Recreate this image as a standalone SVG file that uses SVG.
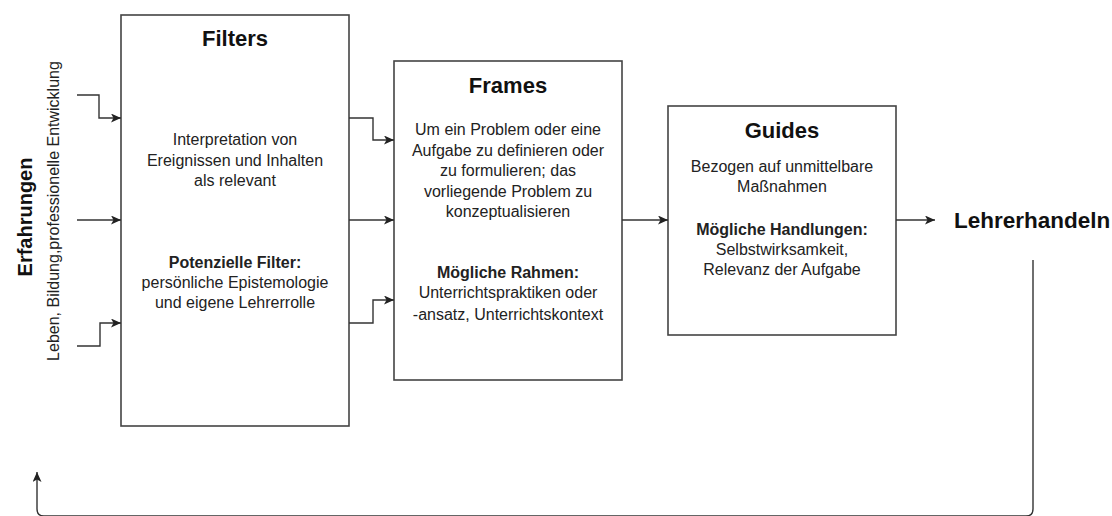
<svg xmlns="http://www.w3.org/2000/svg" width="1112" height="516" viewBox="0 0 1112 516">
<style>
.box{fill:#fff;stroke:#444;stroke-width:1.6}
.t{font-family:"Liberation Sans",Arial,sans-serif;fill:#222;text-anchor:middle}
.title{font-size:22px;font-weight:bold;fill:#111}
.body{font-size:16px}
.b{font-weight:bold}
.con{fill:none;stroke:#333;stroke-width:1.4}
</style>
<defs>
<marker id="ah" markerUnits="userSpaceOnUse" markerWidth="12" markerHeight="10" refX="10" refY="4.5" orient="auto">
<path d="M0,0 L10,4.5 L0,9 L2.5,4.5 Z" fill="#222"/>
</marker>
</defs>
<rect width="1112" height="516" fill="#fff"/>
<g id="left-label">
<text class="t title" style="font-size:20px" transform="translate(32,217) rotate(-90)">Erfahrungen</text>
<text class="t body" transform="translate(59,211) rotate(-90)">Leben, Bildung,professionelle Entwicklung</text>
</g>
<g id="filters">
<rect class="box" x="121" y="15" width="228" height="411"/>
<text class="t title" x="235" y="46">Filters</text>
<text class="t body" x="235" y="145">Interpretation von</text>
<text class="t body" x="235" y="166">Ereignissen und Inhalten</text>
<text class="t body" x="235" y="186">als relevant</text>
<text class="t body b" x="235" y="268">Potenzielle Filter:</text>
<text class="t body" x="235" y="288">persönliche Epistemologie</text>
<text class="t body" x="235" y="308">und eigene Lehrerrolle</text>
</g>
<g id="frames">
<rect class="box" x="394" y="61" width="228" height="319"/>
<text class="t title" x="508" y="93">Frames</text>
<text class="t body" x="508" y="135">Um ein Problem oder eine</text>
<text class="t body" x="508" y="155.5">Aufgabe zu definieren oder</text>
<text class="t body" x="508" y="176">zu formulieren; das</text>
<text class="t body" x="508" y="196.5">vorliegende Problem zu</text>
<text class="t body" x="508" y="217">konzeptualisieren</text>
<text class="t body b" x="508" y="278">Mögliche Rahmen:</text>
<text class="t body" x="508" y="298">Unterrichtspraktiken oder</text>
<text class="t body" x="508" y="320">-ansatz, Unterrichtskontext</text>
</g>
<g id="guides">
<rect class="box" x="668" y="106" width="228" height="229"/>
<text class="t title" x="782" y="138">Guides</text>
<text class="t body" x="782" y="172">Bezogen auf unmittelbare</text>
<text class="t body" x="782" y="192">Maßnahmen</text>
<text class="t body b" x="782" y="235">Mögliche Handlungen:</text>
<text class="t body" x="782" y="255">Selbstwirksamkeit,</text>
<text class="t body" x="782" y="275">Relevanz der Aufgabe</text>
</g>
<g id="lehrerhandeln">
<text class="t title" x="954" y="228" style="text-anchor:start;font-size:22.5px">Lehrerhandeln</text>
</g>
<g id="connectors">
<path class="con" marker-end="url(#ah)" d="M77,95 H99 V118 H121"/>
<path class="con" marker-end="url(#ah)" d="M77,220 H121"/>
<path class="con" marker-end="url(#ah)" d="M77,346 H100 V323 H121"/>
<path class="con" marker-end="url(#ah)" d="M349,118 H373 V140 H394"/>
<path class="con" marker-end="url(#ah)" d="M349,220 H394"/>
<path class="con" marker-end="url(#ah)" d="M349,323 H373 V300 H394"/>
<path class="con" marker-end="url(#ah)" d="M622,220 H668"/>
<path class="con" marker-end="url(#ah)" d="M896,220 H935"/>
<path class="con" marker-end="url(#ah)" d="M1033,260 V509 Q1033,516 1026,516 H44 Q37,516 37,509 V472"/>
</g>
</svg>
